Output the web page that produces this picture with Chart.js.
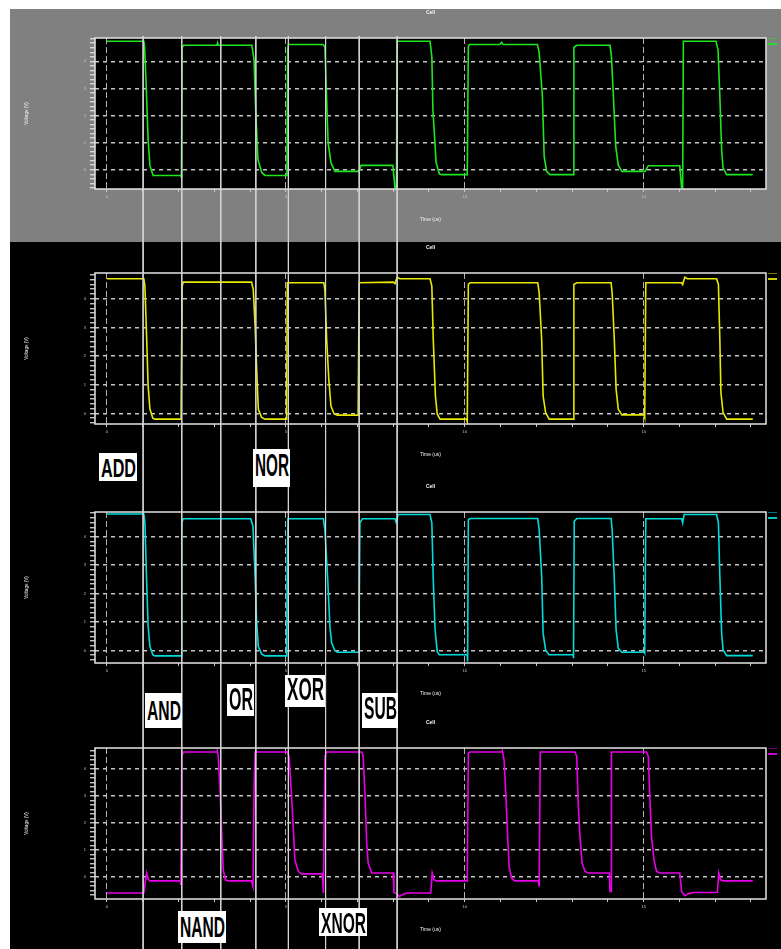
<!DOCTYPE html>
<html><head><meta charset="utf-8">
<script src="https://cdn.jsdelivr.net/npm/chart.js@4.4.1/dist/chart.umd.min.js"></script>
<style>
html,body{margin:0;padding:0;background:#fff;width:781px;height:949px;overflow:hidden;}
#stage{position:relative;width:781px;height:949px;}
.bg{position:absolute;}
canvas{position:absolute;}
.lab{position:absolute;background:#fff;color:#000;overflow:hidden;white-space:nowrap;}
.lab span{position:absolute;left:0;top:0;line-height:1;font-weight:bold;font-family:"Liberation Sans","Liberation Sans Narrow",Arial,sans-serif;transform-origin:0 0;}
</style></head><body>
<div id="stage">
<div class="bg" style="left:10px;top:9px;width:771px;height:233px;background:#808080"></div>
<div class="bg" style="left:10px;top:242px;width:771px;height:707px;background:#000"></div>
<canvas id="p0"></canvas>
<canvas id="p1"></canvas>
<canvas id="p2"></canvas>
<canvas id="p3"></canvas>
<canvas id="overlay"></canvas>
</div>
<script>
// ---------- data ----------
const timeMin = -0.335, timeMax = 18.42;
const tickTimes = [0,1,2,3,4,5,6,7,8,9,10,11,12,13,14,15,16,17,18];
const yAxisMin = [-0.71, -0.37, -0.44, -0.81];
const yAxisMax = [4.86, 4.90, 4.87, 4.78];
const markerTimes = [1.01, 2.09, 3.18, 4.16, 5.07, 6.11, 7.05, 8.11];
const opLabels = ['ADD','NOR','AND','OR','XOR','SUB','NAND','XNOR'];

const traceGreen = [[0,4.74],[1.03,4.74],[1.05,4.55],[1.09,3.32],[1.15,1.11],[1.20,0.15],[1.29,-0.21],[2.07,-0.21],[2.08,-0.30],[2.10,4.51],[2.14,4.59],[3.07,4.59],[3.09,4.67],[3.10,4.59],[4.05,4.59],[4.11,4.06],[4.16,2.10],[4.22,0.37],[4.33,-0.11],[4.42,-0.21],[5.03,-0.21],[5.05,4.40],[5.07,4.62],[6.04,4.62],[6.09,4.54],[6.18,1.00],[6.26,0.26],[6.37,-0.06],[7.04,-0.06],[7.10,0.16],[7.99,0.16],[8.05,-0.66],[8.09,-0.66],[8.11,4.74],[9.03,4.74],[9.08,4.17],[9.11,2.22],[9.20,0.26],[9.29,-0.15],[9.35,-0.18],[10.07,-0.18],[10.10,4.55],[10.13,4.62],[10.98,4.62],[11.03,4.70],[11.07,4.62],[12.03,4.62],[12.08,4.32],[12.17,2.71],[12.22,0.48],[12.29,-0.06],[12.38,-0.18],[13.03,-0.18],[13.05,4.51],[13.13,4.59],[14.06,4.59],[14.10,4.18],[14.15,2.84],[14.22,0.86],[14.29,0.18],[14.39,-0.06],[15.04,-0.06],[15.13,0.15],[16.01,0.15],[16.06,-0.66],[16.09,-0.66],[16.11,4.74],[17.02,4.74],[17.08,4.43],[17.13,2.71],[17.18,0.74],[17.22,0.07],[17.32,-0.18],[18.05,-0.18]];

const traceYellow = [[0,4.70],[1.03,4.70],[1.06,4.44],[1.11,2.58],[1.15,0.96],[1.20,0.15],[1.28,-0.17],[1.34,-0.20],[2.07,-0.20],[2.10,4.44],[2.13,4.58],[4.04,4.58],[4.09,4.32],[4.14,3.05],[4.18,1.66],[4.23,0.15],[4.32,-0.14],[4.42,-0.20],[5.02,-0.20],[5.04,4.56],[6.06,4.56],[6.09,4.32],[6.14,2.58],[6.20,1.19],[6.26,0.26],[6.35,-0.02],[6.44,-0.06],[7.02,-0.06],[7.05,4.56],[8.00,4.58],[8.05,4.53],[8.11,4.75],[8.19,4.70],[9.03,4.70],[9.08,4.44],[9.12,2.58],[9.18,0.61],[9.23,-0.02],[9.31,-0.20],[10.05,-0.20],[10.07,-0.29],[10.10,4.50],[10.15,4.56],[12.04,4.56],[12.08,4.21],[12.15,2.58],[12.19,0.61],[12.26,0.03],[12.36,-0.20],[13.03,-0.20],[13.05,4.50],[13.13,4.56],[14.09,4.56],[14.12,4.21],[14.18,2.58],[14.23,0.85],[14.29,0.15],[14.39,-0.05],[15.01,-0.05],[15.03,-0.14],[15.06,4.56],[16.06,4.56],[16.09,4.50],[16.15,4.75],[16.22,4.70],[17.04,4.70],[17.09,4.50],[17.13,2.58],[17.16,0.73],[17.22,0.03],[17.32,-0.20],[18.05,-0.20]];

const traceCyan = [[0,4.80],[1.03,4.80],[1.06,4.49],[1.11,2.37],[1.15,0.85],[1.20,0.14],[1.28,-0.15],[1.34,-0.19],[2.07,-0.19],[2.09,4.49],[2.13,4.63],[4.02,4.63],[4.08,4.37],[4.14,2.61],[4.18,1.08],[4.23,0.14],[4.32,-0.12],[4.42,-0.19],[5.02,-0.19],[5.04,3.08],[5.06,4.63],[6.05,4.63],[6.09,4.25],[6.17,2.49],[6.23,0.85],[6.28,0.26],[6.37,0.00],[6.44,-0.06],[7.04,-0.06],[7.07,4.49],[7.14,4.63],[8.05,4.63],[8.08,4.51],[8.14,4.78],[9.03,4.78],[9.08,4.49],[9.12,2.49],[9.17,0.73],[9.23,-0.04],[9.29,-0.15],[10.07,-0.15],[10.08,-0.39],[10.10,4.60],[10.15,4.64],[12.04,4.64],[12.08,4.25],[12.15,2.61],[12.19,0.61],[12.26,0.02],[12.35,-0.15],[13.03,-0.15],[13.04,-0.27],[13.06,4.54],[13.13,4.64],[14.09,4.64],[14.12,4.25],[14.18,2.49],[14.23,0.73],[14.29,0.08],[14.39,-0.06],[15.01,-0.06],[15.03,-0.10],[15.06,4.63],[16.06,4.63],[16.09,4.49],[16.13,4.78],[17.04,4.78],[17.09,4.49],[17.13,2.61],[17.18,0.61],[17.22,0.02],[17.32,-0.18],[18.05,-0.18]];

const traceMagenta = [[0,-0.59],[1.03,-0.59],[1.08,-0.10],[1.11,0.15],[1.15,-0.07],[1.20,-0.14],[2.05,-0.14],[2.06,-0.29],[2.09,4.47],[2.13,4.63],[3.07,4.63],[3.08,4.68],[3.11,4.47],[3.16,3.23],[3.21,1.50],[3.25,0.27],[3.31,-0.10],[3.39,-0.14],[4.04,-0.14],[4.08,-0.35],[4.11,3.23],[4.14,4.63],[5.04,4.63],[5.09,4.47],[5.16,2.99],[5.21,1.75],[5.25,0.64],[5.35,0.21],[5.44,0.12],[6.02,0.12],[6.05,-0.59],[6.09,4.47],[6.14,4.63],[7.12,4.63],[7.16,4.47],[7.21,3.11],[7.26,1.26],[7.30,0.52],[7.40,0.15],[8.00,0.15],[8.02,-0.57],[8.11,-0.62],[8.17,-0.72],[8.24,-0.66],[8.38,-0.59],[9.05,-0.59],[9.09,0.15],[9.14,-0.10],[9.21,-0.14],[10.07,-0.14],[10.10,4.59],[10.15,4.63],[11.03,4.63],[11.05,4.68],[11.10,4.34],[11.15,2.99],[11.20,1.50],[11.24,0.39],[11.31,-0.04],[11.40,-0.14],[12.05,-0.14],[12.08,-0.35],[12.11,4.63],[13.08,4.63],[13.13,4.47],[13.17,2.74],[13.22,1.50],[13.28,0.52],[13.36,0.21],[13.45,0.15],[14.04,0.15],[14.06,-0.53],[14.09,-0.53],[14.10,4.63],[15.08,4.63],[15.13,4.47],[15.18,2.74],[15.22,1.50],[15.29,0.64],[15.36,0.21],[15.46,0.15],[16.01,0.15],[16.06,-0.53],[16.15,-0.69],[16.24,-0.62],[16.39,-0.57],[17.06,-0.57],[17.10,0.15],[17.15,-0.10],[17.22,-0.14],[18.05,-0.14]];

const traces = [traceGreen, traceYellow, traceCyan, traceMagenta];

// ---------- styles / layout ----------
const traceColors = ['#1ee61e', '#e8e800', '#00dcdc', '#e800e8'];
const boxTop = [38, 273, 512, 748];
const boxH = 151;
const labelLayout = { // left, top, width, height, capTop, capHeight
  ADD:[99,453,38,28,5,19], NOR:[253,449,37,38,6,22], AND:[145,693,37,35,8,20], OR:[227,684,27,32,5,22],
  XOR:[285,675,40,32,4,22], SUB:[362,693,36,35,5,22], NAND:[178,911,48,32,5,21], XNOR:[319,908,48,28,4,21]
};

Chart.defaults.font.family = "'Liberation Sans', 'DejaVu Sans', sans-serif";
const isInt = v => Math.abs(v - Math.round(v)) < 1e-6;

const boxPlugin = {
  id: 'scopeBox',
  beforeDraw(chart) {
    const a = chart.chartArea, ctx = chart.ctx;
    ctx.save(); ctx.fillStyle = '#000'; ctx.fillRect(a.left, a.top, a.right - a.left, a.bottom - a.top); ctx.restore();
  },
  afterDraw(chart) {
    const a = chart.chartArea, ctx = chart.ctx;
    ctx.save();
    ctx.strokeStyle = '#e4e4e4'; ctx.lineWidth = 1.5;
    ctx.strokeRect(a.left, a.top, a.right - a.left, a.bottom - a.top);
    const col = chart.data.datasets[0].borderColor;
    ctx.strokeStyle = col; ctx.lineWidth = 1.8;
    ctx.beginPath(); ctx.moveTo(a.right + 2, a.top + 6); ctx.lineTo(a.right + 11, a.top + 6); ctx.stroke();
    ctx.globalAlpha = 0.55; ctx.lineWidth = 1;
    ctx.beginPath(); ctx.moveTo(a.right + 2, a.top + 0.5); ctx.lineTo(a.right + 11, a.top + 0.5); ctx.stroke();
    ctx.restore();
  }
};

function makePanel(i) {
  const cv = document.getElementById('p' + i);
  const W = 771, H = 30 + boxH + 40;
  cv.width = W; cv.height = H;
  cv.style.left = '10px'; cv.style.top = (boxTop[i] - 30) + 'px';
  cv.style.width = W + 'px'; cv.style.height = H + 'px';
  const col = traceColors[i];
  new Chart(cv, {
    type: 'scatter',
    data: { datasets: [{ data: traces[i].map(p => ({ x: p[0], y: p[1] })), showLine: true,
      borderColor: col, backgroundColor: col, borderWidth: 1.6, pointRadius: 0, tension: 0 }] },
    options: {
      responsive: false, animation: false, devicePixelRatio: 1,
      layout: { padding: { left: 0, right: 15, top: 0, bottom: 0 } },
      plugins: {
        legend: { display: false }, tooltip: { enabled: false },
        title: { display: true, fullSize: false, text: 'Cell', color: '#f2f2f2', font: { size: 5, weight: 'bold' }, padding: { top: 2, bottom: 22 } }
      },
      scales: {
        x: {
          type: 'linear', min: timeMin, max: timeMax,
          afterBuildTicks: s => { s.ticks = tickTimes.map(v => ({ value: v })); },
          afterFit: s => { s.height = 40; },
          grid: { color: c => (c.tick && isInt(c.tick.value / 5)) ? '#b0b0b0' : 'rgba(0,0,0,0)', lineWidth: 1,
                  tickColor: '#c8c8c8', tickLength: 3 },
          border: { display: false, dash: [6, 3] },
          ticks: { autoSkip: false, maxRotation: 0, padding: 2, color: '#c8c8c8', font: { size: 4 },
                   callback: v => isInt(v / 5) ? String(Math.round(v)) : '' },
          title: { display: true, text: 'Time (us)', color: '#f2f2f2', font: { size: 5 }, padding: { top: 0, bottom: 6 } }
        },
        y: {
          type: 'linear', min: yAxisMin[i], max: yAxisMax[i],
          afterBuildTicks: s => { const t = []; for (let k = Math.ceil(s.min * 6); k <= Math.floor(s.max * 6); k++) t.push({ value: k / 6 }); s.ticks = t; },
          afterFit: s => { s.width = 85; },
          grid: { color: c => (c.tick && isInt(c.tick.value)) ? '#c4c4c4' : 'rgba(0,0,0,0)', lineWidth: 1.5,
                  tickColor: '#e6e6e6', tickLength: 5, tickWidth: 1.2 },
          border: { display: false, dash: [4, 4] },
          ticks: { autoSkip: false, padding: 4, color: '#c8c8c8', font: { size: 4 },
                   callback: v => isInt(v) ? String(Math.round(v)) : '' },
          title: { display: true, text: 'Voltage (V)', color: '#f2f2f2', font: { size: 4.5 }, padding: { top: 14, bottom: 0 } }
        }
      }
    },
    plugins: [boxPlugin]
  });
}
for (let i = 0; i < 4; i++) makePanel(i);

// overlay with the vertical marker lines across all panels
(function () {
  const cv = document.getElementById('overlay');
  cv.width = 781; cv.height = 949; cv.style.left = '0px'; cv.style.top = '0px';
  cv.style.width = '781px'; cv.style.height = '949px';
  const markerTop = 0.962;
  new Chart(cv, {
    type: 'scatter',
    data: { datasets: markerTimes.map(t => ({ data: [{ x: t, y: markerTop }, { x: t, y: 0 }], showLine: true,
      borderColor: '#d4d4d4', borderWidth: 1, pointRadius: 0 })) },
    options: {
      responsive: false, animation: false, devicePixelRatio: 1,
      layout: { padding: { left: 95, right: 15, top: 0, bottom: 0 } },
      plugins: { legend: { display: false }, tooltip: { enabled: false }, title: { display: false } },
      scales: { x: { display: false, min: timeMin, max: timeMax }, y: { display: false, min: 0, max: 1 } }
    }
  });
})();

// operation labels
const stage = document.getElementById('stage');
opLabels.forEach(name => {
  const [l, t, w, h, capTop, capH] = labelLayout[name];
  const d = document.createElement('div');
  d.className = 'lab';
  d.style.left = l + 'px'; d.style.top = t + 'px'; d.style.width = w + 'px'; d.style.height = h + 'px';
  const s = document.createElement('span');
  const fs = capH / 0.716;
  s.style.fontSize = fs + 'px';
  s.textContent = name;
  d.appendChild(s);
  stage.appendChild(d);
  const mw = s.getBoundingClientRect().width;
  const sx = (w - 3) / mw;
  s.style.left = '1.5px';
  s.style.top = (capTop - 0.1305 * fs) + 'px';
  s.style.transform = 'scaleX(' + sx + ')';
});
</script>
</body></html>
